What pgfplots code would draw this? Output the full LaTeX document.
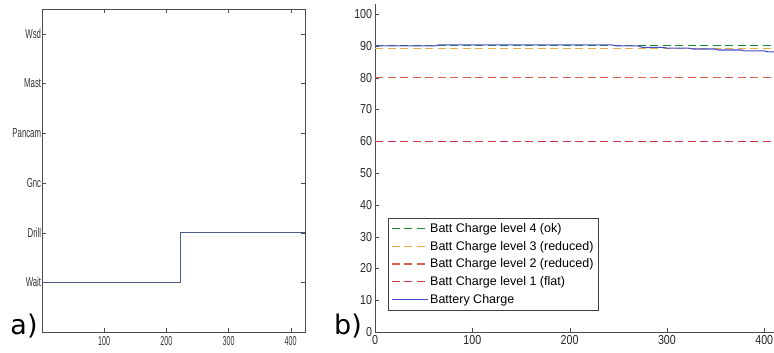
\documentclass[border=0pt]{standalone}
\usepackage{fontspec}
\setmainfont{Liberation Sans}
\newfontfamily\labfont{DejaVu Sans}
\usepackage{pgfplots}
\pgfplotsset{compat=1.18}
\definecolor{stepblue}{rgb}{0.30,0.36,0.52}
\definecolor{battblue}{rgb}{0.28,0.30,0.78}
\definecolor{lvlgreen}{rgb}{0.10,0.55,0.20}
\definecolor{lvlorange}{rgb}{0.90,0.68,0.30}
\definecolor{lvlredb}{rgb}{0.85,0.38,0.30}
\definecolor{lvlreda}{rgb}{0.82,0.20,0.28}
\begin{document}
\begin{tikzpicture}
\useasboundingbox (0,0) rectangle (774pt,353pt);
% ---------- panel a ----------
\begin{axis}[
  at={(42pt,21pt)}, anchor=south west, scale only axis,
  width=263pt, height=323pt,
  xmin=0, xmax=423, ymin=0, ymax=6.5,
  xtick={100,200,300,400},
  ytick={1,2,3,4,5,6},
  yticklabels={Wait,Drill,Gnc,Pancam,Mast,Wsd},
  tick align=inside, major tick length=4pt,
  axis line style={black!70}, tick style={black!70},
  /pgf/number format/assume math mode=true,
  yticklabel style={font=\fontsize{13}{13}\selectfont, xscale=0.6, text=black!80, xshift=2pt},
  xticklabel style={font=\fontsize{13}{13}\selectfont, xscale=0.55, text=black!80, yshift=-1pt},
]
\addplot[const plot, color=stepblue, line width=0.9pt] coordinates {(0,1) (223,2) (422.5,2)};
\end{axis}
% ---------- panel b ----------
\begin{axis}[
  at={(375pt,21pt)}, anchor=south west, scale only axis,
  width=399pt, height=327.5pt,
  xmin=0, xmax=410, ymin=0, ymax=103,
  axis x line=bottom, axis y line=left,
  axis line style={-, black!70}, tick style={black!70},
  xtick={0,100,200,300,400}, ytick={0,10,...,100},
  tick align=inside, major tick length=4pt,
  /pgf/number format/assume math mode=true,
  ticklabel style={font=\fontsize{13}{13}\selectfont, xscale=0.82, text=black!85},
  legend style={at={(0.032,0.348)}, anchor=north west, draw=black!75,
    font=\fontsize{12.5}{13}\selectfont, inner sep=3pt, row sep=3.2pt,
    cells={anchor=west}},
  legend image code/.code={\draw[#1] (0pt,0pt) -- (36pt,0pt);},
]
\addplot[color=lvlgreen, line width=1.2pt, dash pattern=on 8pt off 4.5pt] coordinates {(0,90) (410,90)};
\addlegendentry{Batt Charge level 4 (ok)}
\addplot[color=lvlorange, line width=1.2pt, dash pattern=on 8pt off 4.5pt] coordinates {(0,89.2) (410,89.2)};
\addlegendentry{Batt Charge level 3 (reduced)}
\addplot[color=lvlredb, line width=1.2pt, dash pattern=on 8pt off 4.5pt] coordinates {(0,80) (410,80)};
\addlegendentry{Batt Charge level 2 (reduced)}
\addplot[color=lvlreda, line width=1.2pt, dash pattern=on 8pt off 4.5pt] coordinates {(0,60) (410,60)};
\addlegendentry{Batt Charge level 1 (flat)}
\addplot[color=battblue, line width=1.1pt] coordinates {
(0,90.0) (62,90.0) (66,90.3) (243,90.3) (248,90.0) (270,90.0) (275,89.5)
(296,89.5) (300,89.3) (322,89.3) (327,89.0) (349,89.0) (353,88.7)
(376,88.7) (380,88.4) (400,88.4) (404,88.1) (410,88.1)};
\addlegendentry{Battery Charge}
\end{axis}
\node[font=\labfont\fontsize{27}{27}\selectfont] at (24pt,27pt) {a)};
\node[font=\labfont\fontsize{27}{27}\selectfont] at (348pt,27pt) {b)};
\end{tikzpicture}
\end{document}
